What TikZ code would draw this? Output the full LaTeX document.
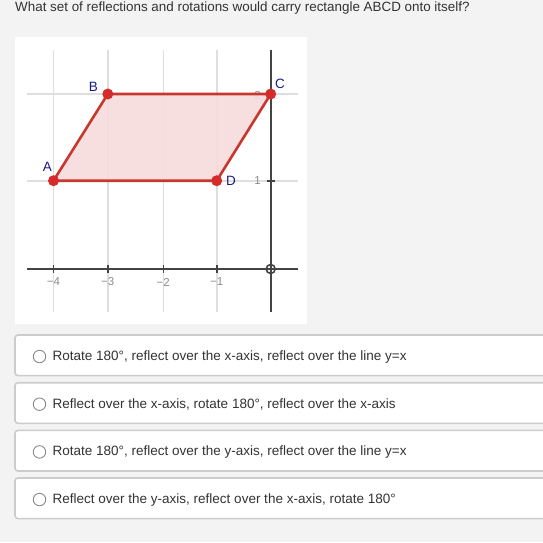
\documentclass[tikz,border=0pt]{standalone}
\usepackage{fontspec}
\setmainfont{Liberation Sans}
\definecolor{pagebg}{HTML}{F3F3F3}
\definecolor{txt}{HTML}{333333}
\definecolor{gridc}{HTML}{DEDEDE}
\definecolor{axisc}{HTML}{444444}
\definecolor{ticklab}{HTML}{8C8C8C}
\definecolor{polyred}{HTML}{C8372D}
\definecolor{ptc}{HTML}{D62B2B}
\definecolor{fillc}{HTML}{F7DCDC}
\definecolor{navy}{HTML}{1A1A8C}
\definecolor{boxb}{HTML}{CCCCCC}
\definecolor{radio}{HTML}{8A8A8A}
\tikzset{
  gridline/.style={draw=gridc,line width=1.6pt},
  axisline/.style={draw=axisc,line width=2pt},
  ticklabel/.style={text=ticklab,font=\fontsize{11.5}{13}\selectfont,inner sep=0pt},
  ptlabel/.style={text=navy,font=\fontsize{13.5}{15}\selectfont,inner sep=0pt},
  dot/.style={circle,fill=ptc,minimum size=11pt,inner sep=0pt},
  answerbox/.style={draw=boxb,line width=1.6pt,fill=white,rounded corners=3pt},
  radiobtn/.style={circle,draw=radio,line width=0.9pt,fill=white,minimum size=12.5pt,inner sep=0pt},
  answertext/.style={text=txt,font=\fontsize{13.5}{15}\selectfont,anchor=west,inner sep=0pt}
}
\begin{document}
\begin{tikzpicture}[x=1pt,y=-1pt]
\useasboundingbox (0,0) rectangle (543,542);
\clip (0,0) rectangle (543,542);
\fill[pagebg] (0,0) rectangle (543,542);
% question
\node[text=txt,font=\fontsize{13.4}{15}\selectfont,anchor=west,inner sep=0pt] (q) at (15,8) {What set of reflections and rotations would carry rectangle ABCD onto itself?};
% graph panel
\fill[white] (15,37) rectangle (307,324);
% grid verticals
\foreach \x in {53.5,107.8,163.3,216.7} \draw[gridline] (\x,50) -- (\x,312);
% grid horizontals
\foreach \y in {94,180.7} \draw[gridline] (27.3,\y) -- (298.3,\y);
% axes
\draw[axisline] (27.3,269) -- (298.3,269);
\draw[axisline] (270.7,50) -- (270.7,312);
% ticks
\foreach \x in {53.5,107.8,163.3,216.7} \draw[axisc,line width=1.6pt] (\x,265) -- (\x,273);
\foreach \y in {94,180.7} \draw[axisc,line width=1.6pt] (266.5,\y) -- (275,\y);
\node[draw=axisc,line width=1.6pt,circle,minimum size=9pt,inner sep=0pt] (origin) at (270.7,269) {};
% tick labels
\node[ticklabel] (lm4) at (53.5,282) {−4};
\node[ticklabel] (lm3) at (107.8,282) {−3};
\node[ticklabel] (lm2) at (163.3,282) {−2};
\node[ticklabel] (lm1) at (216.7,282) {−1};
\node[ticklabel] (l1) at (257.5,181) {1};
\node[ticklabel] (l2) at (257.5,95) {2};
% parallelogram
\coordinate (pA) at (53.5,180.7);
\coordinate (pB) at (107.8,94);
\coordinate (pC) at (270.7,94);
\coordinate (pD) at (216.7,180.7);
\fill[fillc,opacity=0.9] (pA) -- (pB) -- (pC) -- (pD) -- cycle;
\draw[polyred,line width=2.6pt,line join=round] (pA) -- (pB) -- (pC) -- (pD) -- cycle;
\node[dot] (A) at (pA) {};
\node[dot] (B) at (pB) {};
\node[dot] (C) at (pC) {};
\node[dot] (D) at (pD) {};
\node[ptlabel] (lA) at (47.5,166.5) {A};
\node[ptlabel] (lB) at (93.5,86.5) {B};
\node[ptlabel] (lC) at (280,84) {C};
\node[ptlabel] (lD) at (231,181) {D};
% answers
\foreach \i/\t/\s in {1/335/{Rotate 180°, reflect over the x-axis, reflect over the line y=x},
                      2/382.7/{Reflect over the x-axis, rotate 180°, reflect over the x-axis},
                      3/430.4/{Rotate 180°, reflect over the y-axis, reflect over the line y=x},
                      4/478/{Reflect over the y-axis, reflect over the x-axis, rotate 180°}} {
  \draw[answerbox] (15,\t) rectangle (560,\t+40.6);
  \node[radiobtn] (r\i) at (39.5,\t+21.5) {};
  \node[answertext] (a\i) at (52.5,\t+21.5) {\s};
}
\end{tikzpicture}
\end{document}
